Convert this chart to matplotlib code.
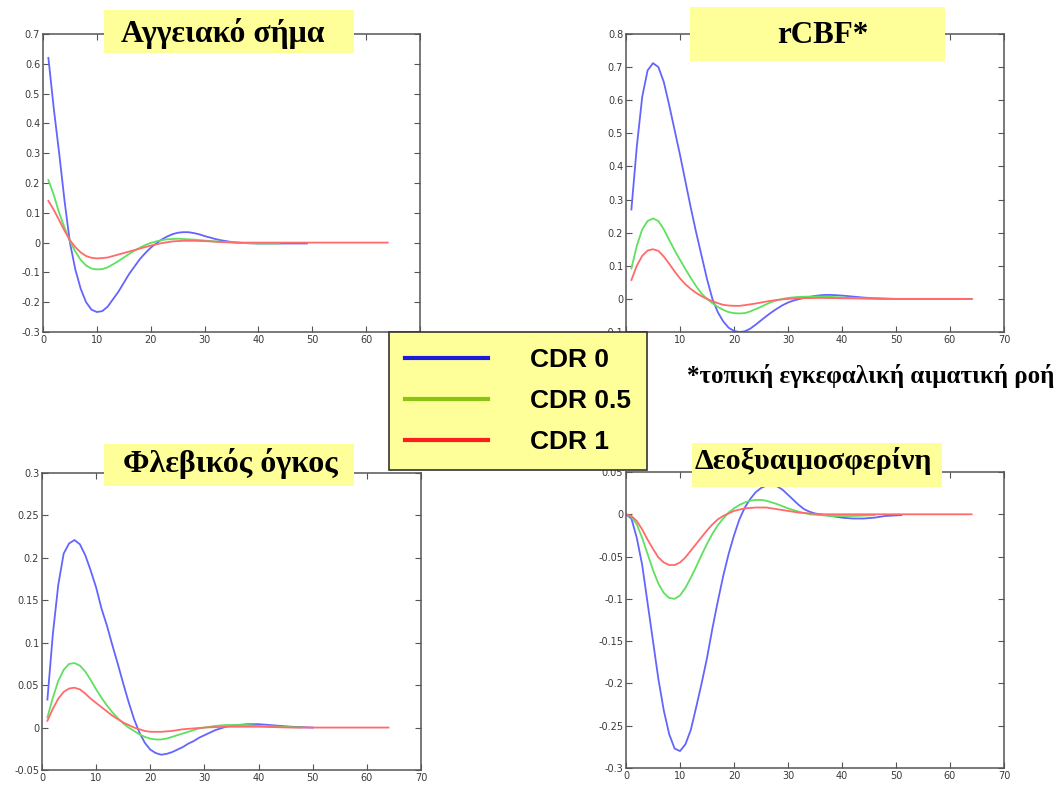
import numpy as np
import matplotlib
matplotlib.use('Agg')
import matplotlib.pyplot as plt
from matplotlib.patches import Rectangle
from matplotlib.lines import Line2D

###############################################################################
# responses for the three groups, one set of arrays per panel

# vascular signal
x_sig_b = [1,2,3,4,5,6,7,8,9,10,11,12,13,14,15,16,17,18,19,20,21,22,23,24,25,26,27,28,29,30,
           31,32,33,34,35,36,37,38,40,42,44,46,49]
sig_b = [0.62,0.45,0.30,0.14,0.0,-0.09,-0.155,-0.2,-0.225,-0.233,-0.23,-0.215,-0.19,-0.165,-0.135,
         -0.105,-0.08,-0.055,-0.035,-0.017,-0.003,0.01,0.02,0.028,0.033,0.035,0.035,0.032,0.028,0.022,
         0.017,0.012,0.008,0.005,0.002,0.0,-0.001,-0.002,-0.003,-0.003,-0.003,-0.003,-0.003]
x_sig_g = [1,2,3,4,5,6,7,8,9,10,11,12,13,14,15,16,17,18,19,20,21,22,23,24,25,26,28,30,32,34,36,38,40,44]
sig_g = [0.21,0.16,0.10,0.05,0.005,-0.03,-0.058,-0.077,-0.087,-0.09,-0.089,-0.083,-0.073,-0.062,-0.05,
         -0.038,-0.027,-0.017,-0.008,-0.001,0.004,0.008,0.011,0.012,0.013,0.012,0.010,0.007,0.004,0.002,
         0.0,-0.002,-0.003,-0.003]
x_sig_r = [1,2,3,4,5,6,7,8,9,10,11,12,14,16,18,20,22,24,26,28,30,32,34,36,40,50,64]
sig_r = [0.14,0.11,0.075,0.04,0.008,-0.015,-0.033,-0.045,-0.051,-0.053,-0.052,-0.05,-0.04,-0.03,-0.02,
         -0.01,-0.002,0.004,0.006,0.006,0.005,0.003,0.001,0.0,0.0,0.0,0.0]

# rCBF
x_cbf_b = [1,2,3,4,5,6,7,8,9,10,11,12,13,14,15,16,17,18,19,20,21,22,23,24,25,26,27,28,29,30,
           31,32,33,34,35,36,37,38,39,40,42,44,46,48,50,64]
cbf_b = [0.27,0.46,0.61,0.69,0.712,0.70,0.655,0.585,0.51,0.435,0.355,0.275,0.2,0.13,0.06,0.0,-0.04,
         -0.068,-0.087,-0.097,-0.1,-0.098,-0.09,-0.078,-0.065,-0.052,-0.04,-0.029,-0.019,-0.011,-0.005,
         -0.001,0.003,0.006,0.009,0.011,0.012,0.012,0.011,0.01,0.007,0.004,0.002,0.001,0.0,0.0]
x_cbf_g = [1,2,3,4,5,6,7,8,9,10,11,12,13,14,15,16,17,18,19,20,21,22,23,24,25,26,27,28,29,30,
           32,34,36,38,40,44,48,64]
cbf_g = [0.092,0.16,0.21,0.235,0.243,0.235,0.21,0.178,0.147,0.118,0.09,0.063,0.038,0.016,0.0,-0.013,
         -0.024,-0.033,-0.04,-0.043,-0.044,-0.043,-0.038,-0.031,-0.024,-0.016,-0.009,-0.004,0.0,0.003,
         0.006,0.007,0.007,0.006,0.004,0.002,0.0,0.0]
x_cbf_r = [1,2,3,4,5,6,7,8,9,10,11,12,13,14,15,16,17,18,19,20,21,22,24,26,28,30,32,36,40,44,48,64]
cbf_r = [0.057,0.10,0.13,0.146,0.15,0.145,0.128,0.106,0.083,0.062,0.044,0.03,0.018,0.008,0.0,-0.007,
         -0.013,-0.018,-0.02,-0.021,-0.021,-0.019,-0.014,-0.008,-0.003,0.0,0.002,0.003,0.002,0.001,0.0,0.0]

# venous volume
x_vol_b = [1,2,3,4,5,6,7,8,9,10,11,12,13,14,15,16,17,18,19,20,21,22,23,24,25,26,27,28,29,30,
           31,32,33,34,36,38,40,42,44,46,50]
vol_b = [0.033,0.11,0.168,0.205,0.217,0.221,0.216,0.203,0.185,0.165,0.14,0.12,0.097,0.075,0.052,0.03,
         0.01,-0.006,-0.018,-0.026,-0.03,-0.032,-0.031,-0.029,-0.026,-0.023,-0.019,-0.016,-0.012,-0.009,
         -0.006,-0.003,-0.001,0.001,0.003,0.004,0.004,0.003,0.002,0.001,0.0]
x_vol_g = [1,2,3,4,5,6,7,8,9,10,11,12,13,14,15,16,17,18,19,20,21,22,23,24,25,26,27,28,29,30,
           32,34,36,38,40,44,48]
vol_g = [0.012,0.035,0.055,0.068,0.075,0.076,0.073,0.066,0.056,0.045,0.035,0.026,0.018,0.011,0.005,0.0,
         -0.004,-0.008,-0.011,-0.013,-0.014,-0.014,-0.013,-0.011,-0.009,-0.007,-0.005,-0.003,-0.001,0.0,
         0.002,0.003,0.003,0.003,0.002,0.001,0.0]
x_vol_r = [1,2,3,4,5,6,7,8,9,10,11,12,13,14,15,16,17,18,19,20,22,24,26,28,30,34,40,46,64]
vol_r = [0.008,0.022,0.034,0.042,0.046,0.047,0.045,0.04,0.034,0.029,0.024,0.019,0.014,0.01,0.006,0.003,
         0.0,-0.002,-0.004,-0.005,-0.005,-0.004,-0.002,-0.001,0.0,0.001,0.001,0.0,0.0]

# deoxyhaemoglobin
x_dhb_b = [0,1,2,3,4,5,6,7,8,9,10,11,12,13,14,15,16,17,18,19,20,21,22,23,24,25,26,27,28,29,30,
           31,32,33,34,35,36,38,40,42,44,46,48,51]
dhb_b = [0.0,-0.005,-0.028,-0.06,-0.105,-0.15,-0.195,-0.232,-0.26,-0.277,-0.28,-0.272,-0.255,-0.228,
         -0.2,-0.17,-0.135,-0.103,-0.073,-0.047,-0.025,-0.006,0.008,0.018,0.026,0.031,0.034,0.035,0.033,
         0.029,0.023,0.017,0.011,0.006,0.003,0.001,0.0,-0.002,-0.004,-0.005,-0.005,-0.004,-0.002,-0.001]
x_dhb_g = [0,1,2,3,4,5,6,7,8,9,10,11,12,13,14,15,16,17,18,19,20,21,22,23,24,25,26,27,28,30,
           32,34,36,38,40,42,46]
dhb_g = [0.0,-0.003,-0.012,-0.028,-0.047,-0.066,-0.082,-0.093,-0.099,-0.1,-0.096,-0.087,-0.075,-0.062,
         -0.048,-0.035,-0.023,-0.013,-0.005,0.002,0.007,0.011,0.014,0.016,0.017,0.017,0.016,0.014,0.012,
         0.007,0.003,0.0,-0.001,-0.002,-0.002,-0.002,-0.001]
x_dhb_r = [0,1,2,3,4,5,6,7,8,9,10,11,12,13,14,15,16,17,18,19,20,22,24,26,28,30,32,34,36,50,64]
dhb_r = [0.0,-0.002,-0.008,-0.018,-0.03,-0.041,-0.051,-0.057,-0.06,-0.06,-0.057,-0.051,-0.043,-0.035,
         -0.027,-0.019,-0.012,-0.006,-0.002,0.001,0.004,0.007,0.008,0.008,0.006,0.004,0.002,0.001,0.0,
         0.0,0.0]

titles = ['Αγγειακό σήμα', 'rCBF*', 'Φλεβικός όγκος', 'Δεοξυαιμοσφερίνη']
groups = ['CDR 0', 'CDR 0.5', 'CDR 1']
footnote = '*τοπική εγκεφαλική αιματική ροή'

###############################################################################

W, H = 1059, 785
line_cols = ['#6464ff', '#5fe05f', '#ff6a6a']
key_cols = ['#1a1ad8', '#8cc414', '#ff1c1c']
yellow = '#ffff99'

def px(x0, y0, x1, y1):
    # pixel box (top-left origin) -> figure fraction rect
    return [x0/W, 1-y1/H, (x1-x0)/W, (y1-y0)/H]

fig = plt.figure(figsize=(W/100, H/100), dpi=100)

panels = [
    (px(43, 34, 420, 332), (x_sig_b, sig_b), (x_sig_g, sig_g), (x_sig_r, sig_r),
     (-0.3, 0.7), np.arange(-0.3, 0.71, 0.1)),
    (px(626, 34, 1004, 332), (x_cbf_b, cbf_b), (x_cbf_g, cbf_g), (x_cbf_r, cbf_r),
     (-0.1, 0.8), np.arange(-0.1, 0.81, 0.1)),
    (px(42, 473, 421, 770), (x_vol_b, vol_b), (x_vol_g, vol_g), (x_vol_r, vol_r),
     (-0.05, 0.3), np.arange(-0.05, 0.301, 0.05)),
    (px(626, 472, 1004, 768), (x_dhb_b, dhb_b), (x_dhb_g, dhb_g), (x_dhb_r, dhb_r),
     (-0.3, 0.05), np.arange(-0.3, 0.051, 0.05)),
]

for rect, b, g, r, ylim, yt in panels:
    ax = fig.add_axes(rect)
    for (xs, ys), c in zip([b, g, r], line_cols):
        ax.plot(xs, ys, color=c, lw=1.3)
    ax.set_xlim(0, 70)
    ax.set_ylim(*ylim)
    ax.set_xticks(np.arange(0, 71, 10))
    ax.set_yticks(yt)
    ax.set_yticklabels(['%g' % (round(v, 2) + 0.0) for v in yt])
    ax.tick_params(direction='in', length=4, width=0.8, top=True, right=True,
                   labelsize=7, labelcolor='#3a3a3a', color='#555555', pad=2)
    for s in ax.spines.values():
        s.set_color('#555555')
        s.set_linewidth(1.1)

# title boxes: (x0, y0, x1, y1, text x, baseline y, size) in pixels
boxes = [(104, 10, 354, 53, 223, 42, 22.9), (690, 7, 945, 61, 823, 43, 22.3),
         (104, 444, 354, 486, 230, 472, 23), (692, 443, 942, 487, 813, 469, 21.6)]
for (x0, y0, x1, y1, tx, ty, fs), t in zip(boxes, titles):
    fig.add_artist(Rectangle((x0/W, 1-y1/H), (x1-x0)/W, (y1-y0)/H, transform=fig.transFigure,
                             facecolor=yellow, edgecolor='none', zorder=3))
    fig.text(tx/W, 1-ty/H, t, ha='center', va='baseline', fontsize=fs, fontweight='bold',
             family='Liberation Serif', zorder=4)

fig.text(687/W, 1-383/H, footnote, ha='left', va='baseline', fontsize=18, fontweight='bold',
         family='Liberation Serif')

handles = [Line2D([], [], color=c, lw=3) for c in key_cols]
leg = fig.legend(handles, groups, loc='upper left', bbox_to_anchor=(389/W, 1-332/H),
                 borderaxespad=0, fancybox=False, framealpha=1, handlelength=3.15,
                 handletextpad=1.6, labelspacing=0.65, borderpad=0.6,
                 prop={'family': 'Liberation Sans', 'size': 19, 'weight': 'bold'})
leg.get_frame().set_facecolor(yellow)
leg.get_frame().set_edgecolor('#333333')
leg.get_frame().set_linewidth(1.2)

fig.savefig('out.png', dpi=100)
